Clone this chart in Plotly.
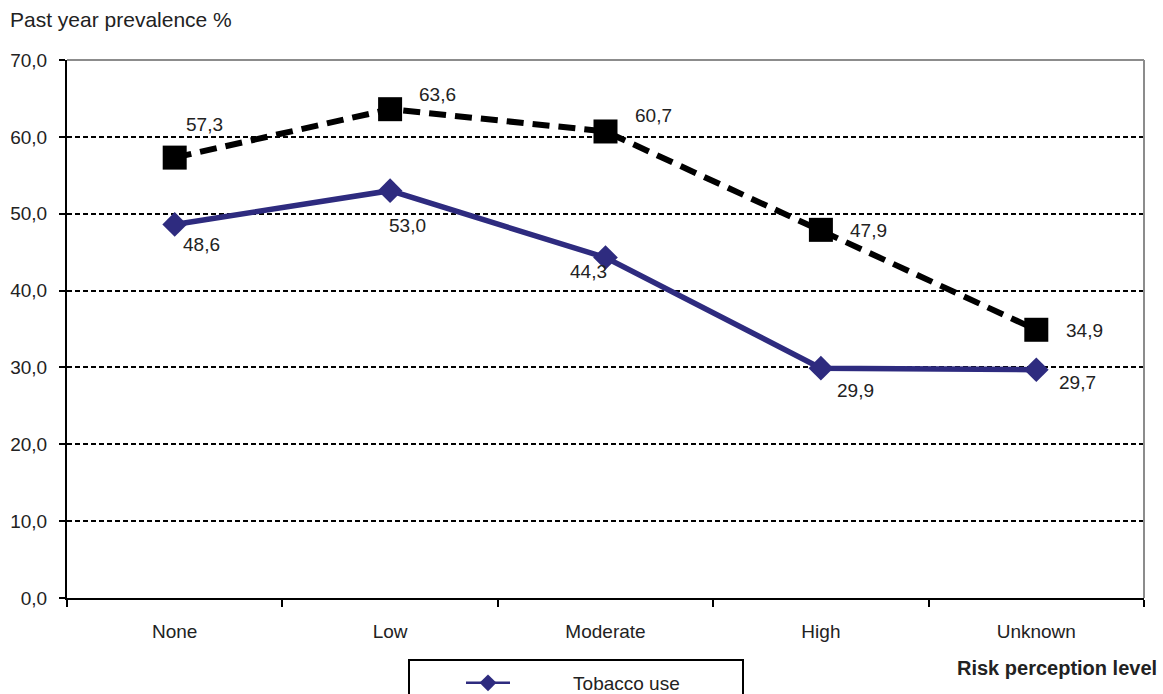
import plotly.graph_objects as go

# Past-year prevalence (%) by risk perception level
levels = ["None", "Low", "Moderate", "High", "Unknown"]
tobacco_use = [48.6, 53.0, 44.3, 29.9, 29.7]
alcohol_use = [57.3, 63.6, 60.7, 47.9, 34.9]
y_tick_values = [0, 10, 20, 30, 40, 50, 60, 70]

# label placement offsets (px) for each point's value label
alcohol_label_shift = [(30, 33), (47, 15), (48, 16), (48, -1), (48, -1)]
tobacco_label_shift = [(27, -20), (17, -35), (-17, -14), (35, -22), (41, -13)]

FONT = "Liberation Sans, Arial, sans-serif"
TEXT = "#222222"
NAVY = "#2e2b7f"

# plot-area geometry in pixels
PL, PR, PT, PB = 67, 1144, 60, 598
PW, PH = PR - PL, PB - PT


def px_x(p):
    return (p - PL) / PW


def px_y(p):
    return (PB - p) / PH


def fmt(v):
    return f"{v:.1f}".replace(".", ",")


# legend label, padded so the text sits clear of the line sample
LEGEND_PAD = "\u00a0" * 11

fig = go.Figure()

fig.add_trace(go.Scatter(
    x=levels, y=tobacco_use, name="Tobacco use", mode="lines+markers",
    line=dict(color=NAVY, width=5.5),
    marker=dict(symbol="diamond", size=19, color=NAVY),
    showlegend=False,
))
fig.add_trace(go.Scatter(
    x=levels, y=alcohol_use, name="Alcohol use", mode="lines+markers",
    line=dict(color="black", width=6, dash="17px,9px"),
    marker=dict(symbol="square", size=24, color="black"),
    showlegend=False,
))
# legend entry with a slimmer sample line and marker
fig.add_trace(go.Scatter(
    x=[None], y=[None], name=LEGEND_PAD + "Tobacco use", mode="lines+markers",
    line=dict(color=NAVY, width=2.5),
    marker=dict(symbol="diamond", size=13, color=NAVY),
    showlegend=True, hoverinfo="skip",
))

annotations = []
for series, shifts in ((alcohol_use, alcohol_label_shift), (tobacco_use, tobacco_label_shift)):
    for lvl, v, (dx, dy) in zip(levels, series, shifts):
        annotations.append(dict(
            x=lvl, y=v, xref="x", yref="y", text=fmt(v), showarrow=False,
            xshift=dx, yshift=dy, font=dict(family=FONT, size=19, color=TEXT),
        ))

annotations.append(dict(
    x=px_x(8), xref="paper", y=px_y(20), yref="paper", text="Past year prevalence %",
    showarrow=False, xanchor="left", yanchor="middle",
    font=dict(family=FONT, size=21, color=TEXT),
))
annotations.append(dict(
    x=px_x(1159), xref="paper", y=px_y(668), yref="paper", text="<b>Risk perception level</b>",
    showarrow=False, xanchor="right", yanchor="middle",
    font=dict(family=FONT, size=20, color=TEXT),
))

shapes = [
    # gray frame on top and right of the plot area
    dict(type="line", xref="paper", yref="paper", x0=0, x1=1, y0=1, y1=1,
         line=dict(color="#8c8c8c", width=2), layer="above"),
    dict(type="line", xref="paper", yref="paper", x0=1, x1=1, y0=0, y1=1,
         line=dict(color="#8c8c8c", width=2), layer="above"),
    # legend frame
    dict(type="rect", xref="paper", yref="paper",
         x0=px_x(409), x1=px_x(743), y0=px_y(660), y1=px_y(760),
         line=dict(color="black", width=2), fillcolor="white", layer="below"),
]

fig.update_layout(
    width=1163, height=694,
    margin=dict(l=PL, r=1163 - PR, t=PT, b=694 - PB, autoexpand=False),
    paper_bgcolor="white", plot_bgcolor="white",
    separators=",.",
    showlegend=True,
    legend=dict(
        x=px_x(461), xanchor="left", xref="paper",
        y=px_y(664), yanchor="top", yref="paper",
        bgcolor="rgba(0,0,0,0)", borderwidth=0,
        font=dict(family=FONT, size=19, color=TEXT),
        itemwidth=44,
    ),
    annotations=annotations,
    shapes=shapes,
    xaxis=dict(
        type="category", range=[-0.5, 4.5], tickson="boundaries",
        ticks="outside", ticklen=7, tickwidth=2, tickcolor="black",
        showline=True, linecolor="black", linewidth=2,
        showgrid=False, zeroline=False,
        tickfont=dict(family=FONT, size=19, color=TEXT),
        ticklabelstandoff=15,
    ),
    yaxis=dict(
        range=[0, 70], tickvals=y_tick_values, tickformat=".1f",
        ticks="outside", ticklen=6, tickwidth=2, tickcolor="black",
        showline=True, linecolor="black", linewidth=2,
        showgrid=True, gridcolor="black", gridwidth=1.5, griddash="5px,3px",
        zeroline=False,
        tickfont=dict(family=FONT, size=19, color=TEXT),
        ticklabelstandoff=8,
    ),
)

fig.write_html("out.html")
